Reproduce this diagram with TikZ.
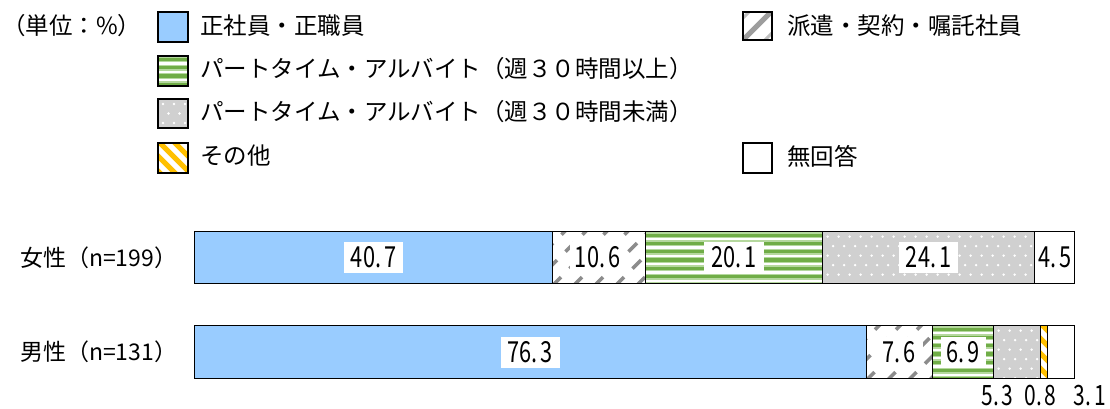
\documentclass[tikz,border=0pt]{standalone}
\usepackage{fontspec}
\setmainfont{Noto Sans CJK JP}
\newfontfamily\numfont[FakeStretch=0.75]{Noto Sans CJK JP}
\definecolor{blueF}{HTML}{99CCFF}
\definecolor{greenD}{HTML}{70AD47}
\definecolor{greenL}{HTML}{B5D89E}
\definecolor{grayF}{HTML}{D0D0D0}
\definecolor{hatchG}{HTML}{8C8C8C}
\definecolor{orangeS}{HTML}{FFC000}
\newcommand\dotgap{.\kern3pt}
\tikzset{
  seg/.style={draw=black, line width=1.2pt, inner sep=0pt, anchor=north west},
  legbox/.style={draw=black, line width=1.2pt, inner sep=0pt, minimum width=30pt, minimum height=30pt},
  pblue/.style={fill=blueF},
  pwhite/.style={fill=white},
  phatch/.style={fill=white, path picture={
    \foreach \k in {-4,...,8}{
      \draw[hatchG, line width=3.5pt, dash pattern=on 12pt off 12pt]
        ([xshift={\k*21pt}, yshift=-2pt]path picture bounding box.south west) -- ++(70,-70);
    }}},
  phatchleg/.style={fill=white, path picture={
      \draw[hatchG!85, line width=5pt] ([xshift=-5pt, yshift=-5pt]path picture bounding box.south west) -- ++(40,-40);
      \draw[hatchG!55, line width=3pt] ([xshift=17pt, yshift=-5pt]path picture bounding box.south west) -- ++(20,-20);
      \draw[hatchG!55, line width=3pt] ([xshift=-5pt, yshift=17pt]path picture bounding box.south west) -- ++(20,-20);
    }},
  pgreen/.style={fill=white, path picture={
    \foreach \j in {0,...,7}{
      \draw[greenL, line width=6pt]
        ([yshift={-(3.5+\j*8.3)*1pt}]path picture bounding box.north west) --
        ([yshift={-(3.5+\j*8.3)*1pt}]path picture bounding box.north east);
      \draw[greenD, line width=3.2pt]
        ([yshift={-(3.5+\j*8.3)*1pt}]path picture bounding box.north west) --
        ([yshift={-(3.5+\j*8.3)*1pt}]path picture bounding box.north east);
    }}},
  pdots/.style={fill=grayF, path picture={
    \foreach \j in {0,...,5}{
      \foreach \i in {0,...,20}{
        \draw[draw=none, fill=white]
          ([xshift={(5+\i*11+mod(\j,2)*5.5)*1pt}, yshift={-(5+\j*9.5)*1pt}]path picture bounding box.north west)
          circle (1.3pt);
      }
    }}},
  porange/.style={fill=white, path picture={
    \foreach \k in {-5,...,3}{
      \draw[orangeS, line width=5pt]
        ([xshift={\k*15pt}, yshift=2pt]path picture bounding box.north west) -- ++(70,70);
    }}},
  numlab/.style={fill=white, inner xsep=7pt, inner ysep=2pt, minimum height=31pt, font=\numfont\fontsize{29}{31}\selectfont},
  plainnum/.style={inner sep=0pt, font=\numfont\fontsize{29}{31}\selectfont},
  botnum/.style={inner sep=0pt, anchor=base, font=\numfont\fontsize{28}{30}\selectfont},
  legtext/.style={anchor=west, inner sep=0pt, font=\fontsize{23.5}{26}\selectfont},
  cattext/.style={anchor=west, inner sep=0pt, font=\fontsize{23}{26}\selectfont},
}
\begin{document}
\begin{tikzpicture}[x=1pt,y=-1pt]
\useasboundingbox[fill=white] (0,0) rectangle (1110,409);

% ---------- legend ----------
\node[legtext] (unit) at (2,26) {（単位：\%）};

\node[legbox, pblue] (k1) at (173,27) {};
\node[legtext] (l1) at (200,26) {正社員・正職員};

\node[legbox, pgreen] (k2) at (173,71) {};
\node[legtext] (l2) at (200,69) {パートタイム・アルバイト（週３０時間以上）};

\node[legbox, pdots, minimum height=29pt] (k3) at (173,113.5) {};
\node[legtext] (l3) at (200,112) {パートタイム・アルバイト（週３０時間未満）};

\node[legbox, porange] (k4) at (173,158) {};
\node[legtext] (l4) at (200,156) {その他};

\node[legbox, phatchleg, minimum width=29pt, minimum height=28pt] (k5) at (757.5,26) {};
\node[legtext] (r1) at (787,26) {派遣・契約・嘱託社員};

\node[legbox, pwhite, minimum width=29pt] (k6) at (757.5,158) {};
\node[legtext] (r2) at (787,156) {無回答};

% ---------- category labels ----------
\node[cattext] (cf) at (20,258) {女性（n=199）};
\node[cattext] (cm) at (20,352) {男性（n=131）};

% ---------- female bar (y 231..283) ----------
\node[seg, pblue,  minimum width=358pt, minimum height=52pt] (fs1) at (194,231) {};
\node[seg, phatch, minimum width=93pt,  minimum height=52pt] (fs2) at (552,231) {};
\node[seg, pgreen, minimum width=177pt, minimum height=52pt] (fs3) at (645,231) {};
\node[seg, pdots,  minimum width=212pt, minimum height=52pt] (fs4) at (822,231) {};
\node[seg, pwhite, minimum width=40pt,  minimum height=52pt] (fs5) at (1034,231) {};
\node[numlab] (f1) at (fs1.center) {40\dotgap 7};
\node[numlab, inner xsep=5pt] (f2) at ([xshift=-1.5pt]fs2.center) {10\dotgap 6};
\node[numlab] (f3) at (fs3.center) {20\dotgap 1};
\node[numlab] (f4) at (fs4.center) {24\dotgap 1};
\node[plainnum] (f5) at (fs5.center) {4\dotgap 5};

% ---------- male bar (y 325..378) ----------
\node[seg, pblue,   minimum width=671.5pt, minimum height=53pt] (ms1) at (194,325) {};
\node[seg, phatch,  minimum width=66.5pt,  minimum height=53pt] (ms2) at (865.5,325) {};
\node[seg, pgreen,  minimum width=61pt,    minimum height=53pt] (ms3) at (932,325) {};
\node[seg, pdots,   minimum width=47pt,    minimum height=53pt] (ms4) at (993,325) {};
\node[seg, porange, minimum width=7pt,     minimum height=53pt] (ms5) at (1040,325) {};
\node[seg, pwhite,  minimum width=27pt,    minimum height=53pt] (ms6) at (1047,325) {};
\node[numlab] (m1) at (ms1.center) {76\dotgap 3};
\node[numlab] (m2) at (ms2.center) {7\dotgap 6};
\node[numlab, inner xsep=6pt] (m3) at (ms3.center) {6\dotgap 9};
\node[botnum] (m4) at (997.5,405) {5\dotgap 3};
\node[botnum] (m5) at (1040.5,405) {0\dotgap 8};
\node[botnum] (m6) at (1090,405) {3\dotgap 1};
\end{tikzpicture}
\end{document}
